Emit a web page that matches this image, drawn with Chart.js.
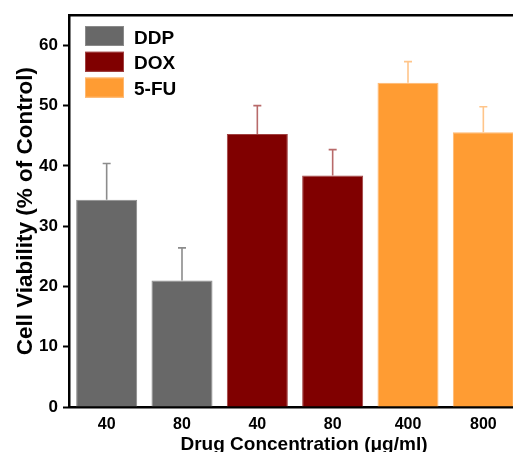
<!DOCTYPE html>
<html>
<head>
<meta charset="utf-8">
<script src="https://cdn.jsdelivr.net/npm/chart.js@4/dist/chart.umd.min.js"></script>
<style>
  html, body { margin: 0; padding: 0; overflow: hidden; background: #fff; }
  #wrap { width: 530px; height: 452px; }
</style>
</head>
<body>
<div id="wrap"><canvas id="c" width="530" height="452"></canvas></div>
<script>
// ---- data ----
const categories = ['40', '80', '40', '80', '400', '800'];
const seriesNames = ['DDP', 'DOX', '5-FU'];
const ddpValues  = [34.4, 21.0, null, null, null, null];
const ddpErrors  = [6.0, 5.4, null, null, null, null];
const doxValues  = [null, null, 45.3, 38.4, null, null];
const doxErrors  = [null, null, 4.7, 4.3, null, null];
const fuValues   = [null, null, null, null, 53.8, 45.6];
const fuErrors   = [null, null, null, null, 3.5, 4.2];
const yTicks = [0, 10, 20, 30, 40, 50, 60];
const yTitle = 'Cell Viability (% of Control)';
const xTitle = 'Drug Concentration (\u03bcg/ml)';

const FONT = '"Liberation Sans", Arial, sans-serif';
const fills   = ['#686868', '#800000', '#FF9C33'];
const borders = ['#8a8a8a', '#a04040', '#FFB870'];
const errCols = ['#8c8c8c', '#b86a6a', '#FFC58A'];
const allErrors = [ddpErrors, doxErrors, fuErrors];

const errorBarPlugin = {
  id: 'errbars',
  afterDatasetsDraw(chart) {
    const ctx = chart.ctx, y = chart.scales.y;
    chart.data.datasets.forEach((ds, di) => {
      const meta = chart.getDatasetMeta(di);
      ds.data.forEach((v, i) => {
        const e = allErrors[di][i];
        if (v == null || e == null) return;
        const el = meta.data[i];
        const top = y.getPixelForValue(v + e);
        ctx.save();
        ctx.strokeStyle = errCols[di];
        ctx.lineWidth = 1.6;
        ctx.beginPath();
        ctx.moveTo(el.x, el.y);
        ctx.lineTo(el.x, top);
        ctx.moveTo(el.x - 4, top);
        ctx.lineTo(el.x + 4, top);
        ctx.stroke();
        ctx.restore();
      });
    });
  }
};

const decorPlugin = {
  id: 'decor',
  afterDraw(chart) {
    const ctx = chart.ctx, a = chart.chartArea;
    ctx.save();
    // top and right frame
    ctx.strokeStyle = '#000';
    ctx.lineWidth = 2.5;
    ctx.beginPath();
    ctx.moveTo(a.left - 1, a.top);
    ctx.lineTo(a.right, a.top);
    ctx.lineTo(a.right, a.bottom);
    ctx.stroke();
    // legend
    ctx.font = 'bold 19px ' + FONT;
    ctx.textBaseline = 'alphabetic';
    ctx.textAlign = 'left';
    const lx = 85, ly = 26, gap = 25.8;
    seriesNames.forEach((n, i) => {
      const yy = ly + i * gap;
      ctx.fillStyle = fills[i];
      ctx.fillRect(lx, yy, 39, 20);
      ctx.strokeStyle = borders[i];
      ctx.lineWidth = 1;
      ctx.strokeRect(lx + 0.5, yy + 0.5, 38, 19);
      ctx.fillStyle = '#000';
      ctx.fillText(n, 134, yy + 17.5);
    });
    // y title
    ctx.save();
    ctx.font = 'bold 22.5px ' + FONT;
    ctx.translate(32, (a.top + a.bottom) / 2);
    ctx.rotate(-Math.PI / 2);
    ctx.textAlign = 'center';
    ctx.fillText(yTitle, 0, 0);
    ctx.restore();
    // x title
    ctx.font = 'bold 19px ' + FONT;
    ctx.textAlign = 'center';
    ctx.fillText(xTitle, 304, 450);
    ctx.restore();
  }
};

new Chart(document.getElementById('c'), {
  type: 'bar',
  data: {
    labels: categories,
    datasets: [ddpValues, doxValues, fuValues].map((d, i) => ({
      label: seriesNames[i],
      data: d,
      backgroundColor: fills[i],
      borderColor: borders[i],
      borderWidth: 1,
      grouped: false,
      barPercentage: 0.81,
      categoryPercentage: 1
    }))
  },
  options: {
    responsive: false,
    animation: false,
    devicePixelRatio: 1,
    layout: { padding: { top: 14, right: 9, left: 0, bottom: 0 } },
    plugins: { legend: { display: false }, tooltip: { enabled: false } },
    scales: {
      x: {
        afterFit: s => { s.height = 45; },
        grid: { display: true, drawOnChartArea: false, drawTicks: false },
        border: { color: '#000', width: 2.5 },
        ticks: { color: '#000', padding: 8, font: { family: FONT, size: 16, weight: 'bold' } }
      },
      y: {
        min: 0, max: 65,
        afterFit: s => { s.width = 69; },
        afterBuildTicks: s => { s.ticks = yTicks.map(v => ({ value: v })); },
        grid: { drawOnChartArea: false, drawTicks: true, tickLength: 6, tickWidth: 2, tickColor: '#000', color: '#000' },
        border: { color: '#000', width: 2.5 },
        ticks: { color: '#000', padding: 5, font: { family: FONT, size: 17, weight: 'bold' } }
      }
    }
  },
  plugins: [errorBarPlugin, decorPlugin]
});
</script>
</body>
</html>
